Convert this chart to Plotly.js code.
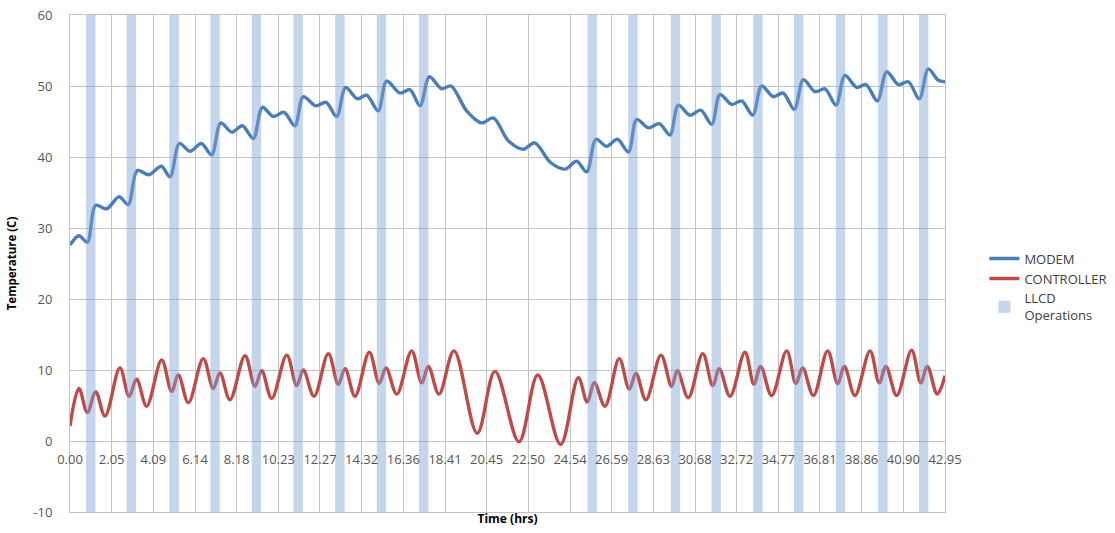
<!DOCTYPE html>
<html>
<head>
<meta charset="utf-8">
<script src="https://cdn.plot.ly/plotly-3.0.1.min.js"></script>
<style>html,body{margin:0;padding:0;background:#fff;}#chart{width:1115px;height:533px;}</style>
</head>
<body>
<div id="chart"></div>
<script>
var tickLabels = ["0.00","2.05","4.09","6.14","8.18","10.23","12.27","14.32","16.36","18.41","20.45","22.50","24.54","26.59","28.63","30.68","32.72","34.77","36.81","38.86","40.90","42.95"];
var tickValues = [0, 2.045, 4.09, 6.136, 8.181, 10.226, 12.271, 14.317, 16.362, 18.407, 20.452, 22.498, 24.543, 26.588, 28.633, 30.679, 32.724, 34.769, 36.814, 38.86, 40.905, 42.95];
var yTickValues = [-10, 0, 10, 20, 30, 40, 50, 60];
var yTickLabels = ["-10", "0", "10", "20", "30", "40", "50", "60"];

var modemT = [0, 0.44, 0.85, 1.26, 1.8, 2.41, 2.86, 3.30, 3.88, 4.48, 4.91, 5.37, 5.89, 6.45, 6.95, 7.40, 7.94, 8.46, 9.0, 9.44, 9.98, 10.5, 11.04, 11.45, 12.06, 12.57, 13.09, 13.53, 14.1, 14.56, 15.13, 15.54, 16.2, 16.69, 17.18, 17.64, 18.24, 18.7, 19.47, 20.2, 20.78, 21.51, 22.25, 22.82, 23.56, 24.30, 24.87, 25.36, 25.82, 26.34, 26.87, 27.41, 27.82, 28.39, 28.93, 29.45, 29.86, 30.43, 30.96, 31.5, 31.9, 32.48, 32.97, 33.51, 33.95, 34.52, 35.01, 35.55, 36.0, 36.57, 37.06, 37.6, 38.04, 38.61, 39.07, 39.63, 40.09, 40.66, 41.15, 41.69, 42.13, 42.62, 42.95];
var modemV = [27.6, 28.9, 28.0, 33.2, 32.7, 34.4, 33.3, 38.1, 37.5, 38.7, 37.2, 41.9, 40.8, 41.9, 40.3, 44.8, 43.5, 44.4, 42.6, 47.0, 45.7, 46.3, 44.4, 48.5, 47.2, 47.7, 45.7, 49.8, 48.2, 48.7, 46.5, 50.7, 49.0, 49.5, 47.2, 51.3, 49.6, 50.0, 46.5, 44.8, 45.5, 42.3, 41.1, 42.0, 39.3, 38.3, 39.4, 37.9, 42.5, 41.5, 42.5, 40.7, 45.3, 44.1, 44.7, 43.1, 47.3, 45.9, 46.6, 44.6, 48.8, 47.4, 47.9, 45.9, 50.0, 48.5, 49.0, 46.7, 50.9, 49.2, 49.6, 47.3, 51.5, 49.8, 50.2, 47.9, 52.0, 50.2, 50.6, 48.2, 52.4, 50.8, 50.6];

var ctrlT = [0, 0.44, 0.85, 1.26, 1.72, 2.45, 2.9, 3.27, 3.76, 4.5, 4.99, 5.32, 5.81, 6.54, 7.03, 7.36, 7.85, 8.59, 9.08, 9.41, 9.9, 10.64, 11.13, 11.45, 11.98, 12.68, 13.17, 13.5, 13.99, 14.69, 15.18, 15.51, 16.04, 16.77, 17.26, 17.59, 18.11, 18.85, 19.99, 20.86, 22.04, 22.96, 24.08, 24.95, 25.39, 25.74, 26.26, 26.96, 27.45, 27.78, 28.27, 29.01, 29.53, 29.81, 30.35, 31.06, 31.55, 31.87, 32.4, 33.13, 33.57, 33.9, 34.44, 35.18, 35.63, 35.96, 36.49, 37.19, 37.68, 38.01, 38.53, 39.27, 39.72, 40.05, 40.58, 41.31, 41.76, 42.08, 42.57, 42.95];
var ctrlV = [2.1, 7.4, 4.0, 6.9, 3.5, 10.3, 6.3, 8.7, 4.9, 11.4, 7.0, 9.3, 5.4, 11.6, 7.4, 9.6, 5.8, 12.0, 7.7, 9.9, 6.0, 12.1, 7.8, 10.0, 6.3, 12.3, 8.0, 10.2, 6.3, 12.5, 8.1, 10.3, 6.6, 12.7, 8.2, 10.5, 6.6, 12.7, 1.1, 9.8, -0.1, 9.3, -0.5, 8.9, 5.5, 8.2, 4.9, 11.6, 7.3, 9.5, 5.8, 12.1, 7.7, 9.9, 6.1, 12.3, 7.8, 10.2, 6.3, 12.5, 8.0, 10.5, 6.4, 12.7, 8.1, 10.3, 6.4, 12.7, 8.1, 10.5, 6.4, 12.7, 8.2, 10.5, 6.4, 12.8, 8.2, 10.5, 6.6, 9.2];

var llcdT = [1.02, 3.01, 5.11, 7.12, 9.15, 11.2, 13.25, 15.29, 17.36, 25.64, 27.63, 29.72, 31.72, 33.77, 35.77, 37.82, 39.9, 41.9];
var llcdBase = [-10, -10, -10, -10, -10, -10, -10, -10, -10, -10, -10, -10, -10, -10, -10, -10, -10, -10];
var llcdSpan = [70, 70, 70, 70, 70, 70, 70, 70, 70, 70, 70, 70, 70, 70, 70, 70, 70, 70];

var gridCol = '#c3c3c3';
var tickFont = {family: 'Open Sans, sans-serif', size: 13, color: '#555555'};

var traces = [
  {type: 'scatter', mode: 'lines', name: 'MODEM', x: modemT, y: modemV,
   line: {color: '#4a7ebb', width: 3.4, shape: 'spline', smoothing: 0.9}, xaxis: 'x', yaxis: 'y'},
  {type: 'scatter', mode: 'lines', name: 'CONTROLLER', x: ctrlT, y: ctrlV,
   line: {color: '#be4b48', width: 3.4, shape: 'spline', smoothing: 1.0}, xaxis: 'x', yaxis: 'y'},
  {type: 'bar', name: 'LLCD<br>Operations', x: llcdT, y: llcdSpan, base: llcdBase, width: 0.46,
   marker: {color: 'rgba(125,162,212,0.45)', line: {width: 0}}, xaxis: 'x2', yaxis: 'y2'}
];

var layout = {
  width: 1115, height: 533,
  margin: {l: 70, r: 170, t: 15, b: 21, autoexpand: false},
  paper_bgcolor: '#fff', plot_bgcolor: '#fff',
  showlegend: true,
  legend: {x: 1.045, xanchor: 'left', y: 0.54, yanchor: 'top', traceorder: 'normal',
           font: {family: 'Open Sans, sans-serif', size: 13, color: '#404040'}},
  xaxis: {range: [0, 42.95], tickvals: tickValues, showticklabels: false, showgrid: true, gridcolor: gridCol, gridwidth: 1,
          zeroline: false, showline: true, mirror: true, linecolor: gridCol, ticks: '', automargin: false,
          title: {text: '<b>Time (hrs)</b>', font: {family: 'Open Sans, sans-serif', size: 12, color: '#000'}, standoff: 2}},
  yaxis: {range: [-10, 60], tickvals: yTickValues, ticktext: yTickLabels, showgrid: true, gridcolor: gridCol, gridwidth: 1,
          zeroline: false, showline: true, mirror: true, linecolor: gridCol, ticks: '', tickfont: tickFont,
          ticklabelstandoff: 14, automargin: false,
          title: {text: '<b>Temperature (C)</b>', font: {family: 'Open Sans, sans-serif', size: 11.5, color: '#000'}, standoff: 14}},
  xaxis2: {overlaying: 'x', anchor: 'free', position: 1/7, range: [0, 42.95], tickvals: tickValues, ticktext: tickLabels,
           showgrid: false, zeroline: false, showline: false, ticks: '', tickfont: tickFont, ticklabelstandoff: 9, automargin: false},
  yaxis2: {overlaying: 'y', range: [-10, 60], visible: false, showgrid: false, zeroline: false}
};

Plotly.newPlot('chart', traces, layout, {displayModeBar: false, staticPlot: true});
</script>
</body>
</html>
